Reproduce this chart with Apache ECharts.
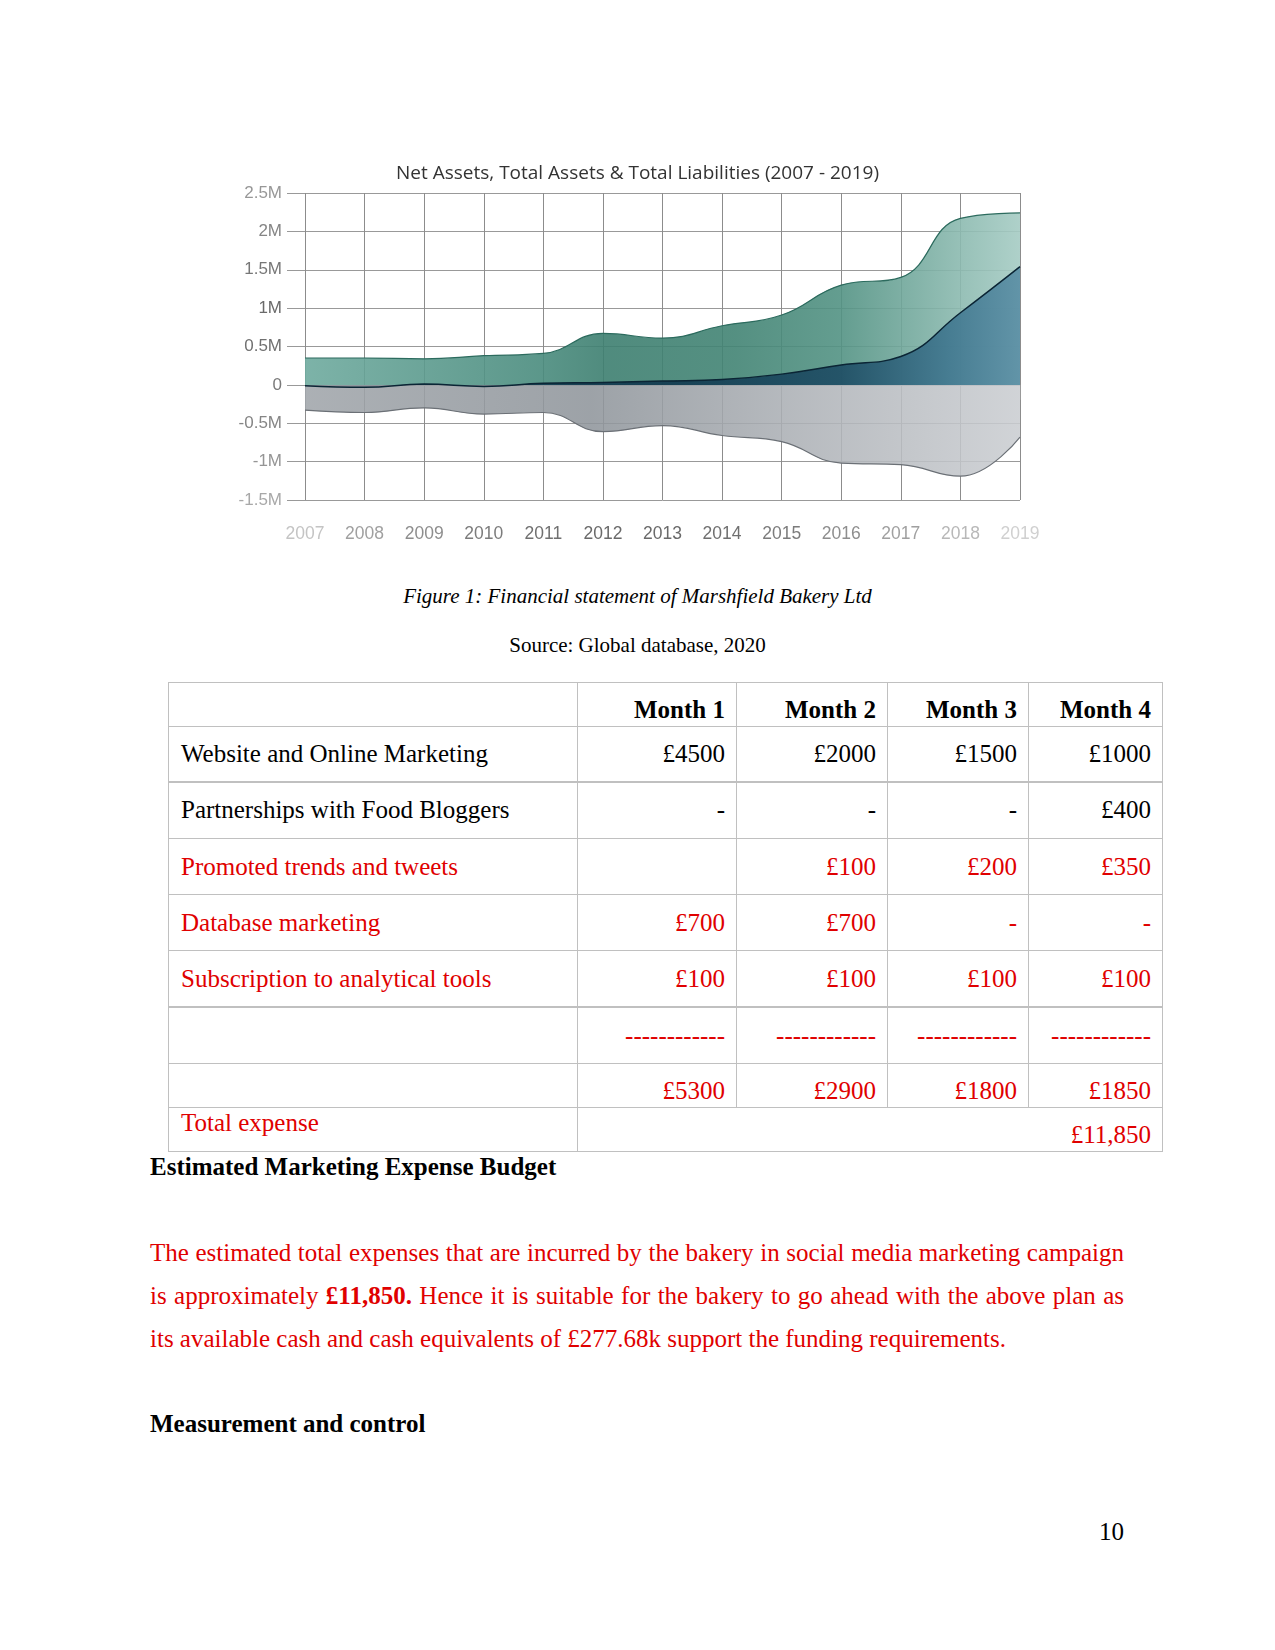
<!DOCTYPE html>
<html>
<head>
<meta charset="utf-8">
<script src="https://cdn.jsdelivr.net/npm/echarts@6/dist/echarts.min.js"></script>
<style>
  html, body { margin:0; padding:0; background:#fff; }
  body { width:1275px; height:1650px; position:relative; overflow:hidden; font-family:"Liberation Serif","Times New Roman",serif; }
  .t { position:absolute; white-space:nowrap; font-size:25px; line-height:30px; color:#000; }
  .red { color:#e00000; }
  .b { font-weight:bold; }
  .line { position:absolute; background:#c0c0c0; }
  .just { position:absolute; left:150px; width:974px; font-size:25px; line-height:30px; text-align:justify; text-align-last:justify; white-space:nowrap; color:#e00000; }
</style>
</head>
<body>
<div id="chart" style="position:absolute;left:0;top:0;width:1275px;height:560px;"></div>
<div id="page"></div>
<script>
// ---------- chart data ----------
const chartTitle = 'Net Assets, Total Assets & Total Liabilities (2007 - 2019)';
const years = ['2007','2008','2009','2010','2011','2012','2013','2014','2015','2016','2017','2018','2019'];
const totalAssets = [350000, 350000, 340000, 380000, 410000, 670000, 610000, 770000, 910000, 1300000, 1400000, 2170000, 2240000];
const netAssets = [-10000, -30000, 10000, -20000, 20000, 30000, 50000, 70000, 140000, 260000, 370000, 940000, 1540000];
const totalLiabilities = [-330000, -360000, -300000, -380000, -360000, -610000, -530000, -660000, -740000, -1020000, -1040000, -1190000, -680000];
const xLabelColors = ['#c4c4c4','#a0a0a0','#8e8e8e','#7c7c7c','#707070','#6a6a6a','#6a6a6a','#707070','#7c7c7c','#8e8e8e','#a0a0a0','#b8b8b8','#d0d0d0'];
const yLabelColors = ['#a8a8a8','#959595','#858585','#7a7a7a','#707070','#6a6a6a','#777777','#858585','#979797'];

// ---------- table data ----------
const tableLabels = ['', 'Website and Online Marketing', 'Partnerships with Food Bloggers', 'Promoted trends and tweets', 'Database marketing', 'Subscription to analytical tools', '', ''];
const month1 = ['Month 1', '£4500', '-', '', '£700', '£100', '------------', '£5300'];
const month2 = ['Month 2', '£2000', '-', '£100', '£700', '£100', '------------', '£2900'];
const month3 = ['Month 3', '£1500', '-', '£200', '-', '£100', '------------', '£1800'];
const month4 = ['Month 4', '£1000', '£400', '£350', '-', '£100', '------------', '£1850'];
const rowRed = [false, false, false, true, true, true, true, true];
const totalLabel = 'Total expense';
const totalValue = '£11,850';

const chart = echarts.init(document.getElementById('chart'), null, {renderer:'canvas'});
const lg = (stops) => new echarts.graphic.LinearGradient(0, 0, 1, 0, stops.map(s => ({offset:s[0], color:s[1]})));
chart.setOption({
  animation:false,
  title:{ text:chartTitle, left:'center', top:159,
    textStyle:{ fontFamily:'Open Sans', fontSize:19, fontWeight:'normal', color:'#333' } },
  grid:{ left:305, top:193, width:715, height:307 },
  xAxis:{ type:'category', data:years, boundaryGap:false,
    axisLine:{ show:true, lineStyle:{ color:'#999' } },
    axisTick:{ show:true, length:15, lineStyle:{ color:'#999' } },
    splitLine:{ show:true, lineStyle:{ color:'#8c8c8c' } },
    axisLabel:{ interval:0, margin:25, fontSize:17.5, fontFamily:'Liberation Sans',
      color:(v, i) => xLabelColors[i] } },
  yAxis:{ type:'value', min:-1500000, max:2500000, interval:500000,
    axisLine:{ show:false },
    axisTick:{ show:true, length:18, lineStyle:{ color:'#999' } },
    splitLine:{ show:true, lineStyle:{ color:'#999' } },
    axisLabel:{ margin:23, fontSize:17, fontFamily:'Liberation Sans',
      formatter:(v) => v === 0 ? '0' : (v / 1000000) + 'M',
      color:(v, i) => yLabelColors[i] } },
  series:[
    { name:'Total Assets', type:'line', data:totalAssets, smooth:0.45, symbol:'none',
      lineStyle:{ color:'#2c6b5e', width:1.2 },
      areaStyle:{ opacity:0.9, color:lg([[0,'#6fab9f'],[0.33,'#4a8c7e'],[0.42,'#3d7f70'],[0.6,'#428474'],[0.75,'#539384'],[0.92,'#8dbbb1'],[1,'#a6ccc4']]) } },
    { name:'Net Assets', type:'line', data:netAssets, smooth:0.45, symbol:'none',
      lineStyle:{ color:'#0b2535', width:1.5 },
      areaStyle:{ opacity:0.92, color:lg([[0,'#143a4e'],[0.5,'#123a50'],[0.75,'#1f4e65'],[0.9,'#40778f'],[1,'#5b8fa5']]) } },
    { name:'Total Liabilities', type:'line', data:totalLiabilities, smooth:0.45, symbol:'none',
      lineStyle:{ color:'#6b7076', width:1.2 },
      areaStyle:{ opacity:0.88, color:lg([[0,'#a0a5aa'],[0.4,'#8f959b'],[0.7,'#aeb2b7'],[1,'#cacdd1']]) } }
  ]
});

// ---------- page layout ----------
const page = document.getElementById('page');
function addText(txt, left, cy, cls, extra) {
  const d = document.createElement('div');
  d.className = 't ' + (cls || '');
  d.textContent = txt;
  d.style.top = (cy - 15) + 'px';
  if (left !== null) d.style.left = left + 'px';
  if (extra) Object.assign(d.style, extra);
  page.appendChild(d);
  return d;
}
function addLine(x, y, w, h) {
  const d = document.createElement('div');
  d.className = 'line';
  Object.assign(d.style, { left:x + 'px', top:y + 'px', width:w + 'px', height:h + 'px' });
  page.appendChild(d);
}
// caption & source
addText('Figure 1: Financial statement of Marshfield Bakery Ltd', null, 596, '', { left:'0', width:'1275px', textAlign:'center', fontSize:'21px', fontStyle:'italic' });
addText('Source: Global database, 2020', null, 645, '', { left:'0', width:'1275px', textAlign:'center', fontSize:'21px' });

// table
const colX = [168, 577, 736, 887, 1028, 1162];
const rowY = [682, 726, 782, 838, 894, 950, 1007, 1063, 1107, 1151];
const textCY = [710, 754, 810, 867, 923, 979, 1036, 1091];
rowY.forEach((y, i) => {
  const thick = (i === 2 || i === 6);
  addLine(colX[0], y - (thick ? 1 : 0), colX[5] - colX[0] + 1, thick ? 2 : 1);
});
addLine(colX[0], rowY[0], 1, rowY[9] - rowY[0]);
addLine(colX[5], rowY[0], 1, rowY[9] - rowY[0] + 1);
addLine(colX[1], rowY[0], 1, rowY[9] - rowY[0]);
[2, 3, 4].forEach(c => addLine(colX[c], rowY[0], 1, rowY[8] - rowY[0]));
const months = [month1, month2, month3, month4];
for (let r = 0; r < tableLabels.length; r++) {
  const cls = (rowRed[r] ? 'red ' : '') + (r === 0 ? 'b' : '');
  if (tableLabels[r]) addText(tableLabels[r], colX[0] + 13, textCY[r], cls);
  months.forEach((m, c) => {
    if (m[r]) addText(m[r], null, textCY[r], cls, { right:(1275 - colX[c + 2] + 11) + 'px' });
  });
}
addText(totalLabel, colX[0] + 13, 1123, 'red');
addText(totalValue, null, 1135, 'red', { right:(1275 - colX[5] + 11) + 'px' });

// body text
addText('Estimated Marketing Expense Budget', 150, 1167, 'b');
const para = [
  ['The estimated total expenses that are incurred by the bakery in social media marketing campaign', true],
  ['is approximately <b>£11,850.</b> Hence it is suitable for the bakery to go ahead with the above plan as', true],
  ['its available cash and cash equivalents of £277.68k support the funding requirements.', false]
];
const paraCY = [1253, 1296, 1339];
para.forEach((p, i) => {
  const d = document.createElement('div');
  d.className = 'just';
  d.innerHTML = p[0];
  d.style.top = (paraCY[i] - 15) + 'px';
  if (!p[1]) { d.style.textAlign = 'left'; d.style.textAlignLast = 'left'; }
  page.appendChild(d);
});
addText('Measurement and control', 150, 1424, 'b');
addText('10', null, 1532, '', { right:(1275 - 1124) + 'px' });
</script>
</body>
</html>
